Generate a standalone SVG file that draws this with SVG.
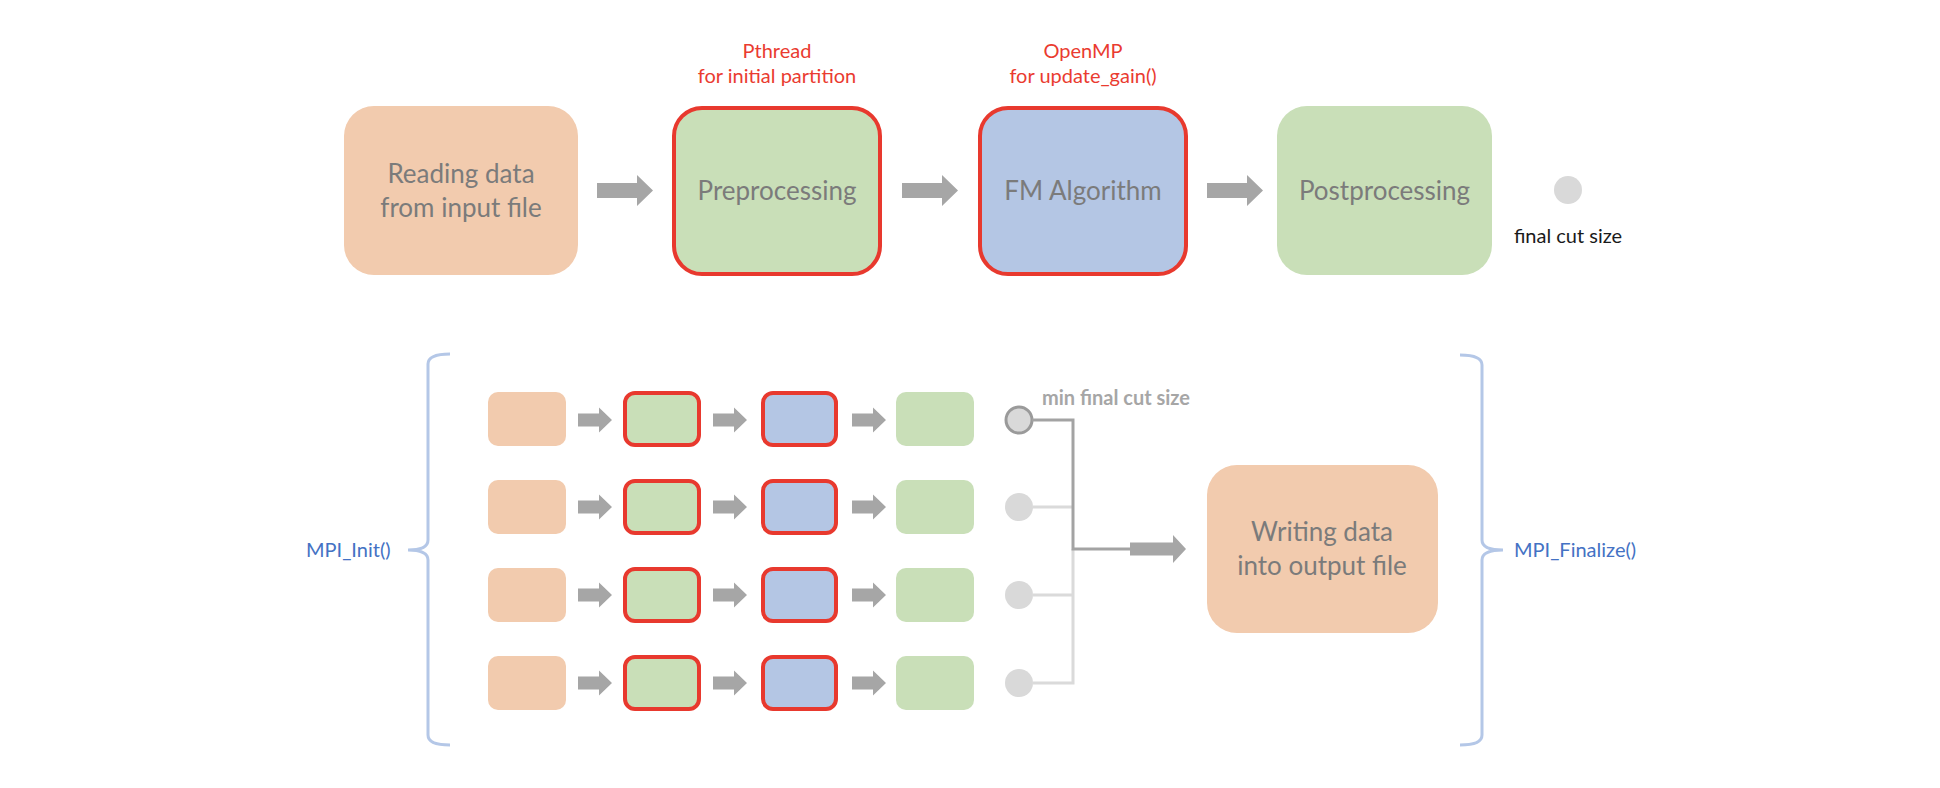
<svg xmlns="http://www.w3.org/2000/svg" xmlns:xlink="http://www.w3.org/1999/xlink" width="1940" height="788" viewBox="0 0 1940 788">
<style>
.orange{fill:#f2cbae}
.green{fill:#c9dfb8}
.blue{fill:#b4c6e4}
.red{stroke:#e8392e;stroke-width:4}
.main{font-family:Lato,"Liberation Sans",sans-serif;font-size:26px;fill:#7b7b7b;text-anchor:middle}
.lbl{font-family:Lato,"Liberation Sans",sans-serif;font-size:20px;fill:#ea3b30;text-anchor:middle}
.mpi{font-family:Lato,"Liberation Sans",sans-serif;font-size:20px;fill:#4472c4}
.arrow{fill:#a6a6a6}
.brace{fill:none;stroke:#b4c7e7;stroke-width:3}
.dark{stroke:#a3a3a3;stroke-width:3;fill:none}
.light{stroke:#dadada;stroke-width:3;fill:none}
</style>
<defs>
<path id="bigArrow" d="M0,-7.5 H40 V-15.5 L56,0 L40,15.5 V7.5 H0 Z"/>
<path id="smallArrow" d="M0,-6.5 H21 V-12.5 L34,0 L21,12.5 V6.5 H0 Z"/>
<path id="mergeArrow" d="M0,-6.5 H43 V-14 L56,0 L43,14 V6.5 H0 Z"/>
</defs>
<rect width="1940" height="788" fill="#ffffff"/>

<!-- top row -->
<g id="read">
<rect class="orange" x="344" y="106" width="234" height="169" rx="30"/>
<text class="main" x="461" y="183">Reading data</text>
<text class="main" x="461" y="217">from input file</text>
</g>
<g id="pre">
<rect class="green red" x="674" y="108" width="206" height="166" rx="28"/>
<text class="main" x="777" y="200">Preprocessing</text>
</g>
<g id="pre-label">
<text class="lbl" x="777" y="58">Pthread</text>
<text class="lbl" x="777" y="83">for initial partition</text>
</g>
<g id="fm">
<rect class="blue red" x="980" y="108" width="206" height="166" rx="28"/>
<text class="main" x="1083" y="200">FM Algorithm</text>
</g>
<g id="fm-label">
<text class="lbl" x="1083" y="58">OpenMP</text>
<text class="lbl" x="1083" y="83">for update_gain()</text>
</g>
<g id="post">
<rect class="green" x="1277" y="106" width="215" height="169" rx="30"/>
<text class="main" x="1384.5" y="200">Postprocessing</text>
</g>
<g id="final">
<circle cx="1568" cy="190" r="14" fill="#d9d9d9"/>
<text x="1568" y="243" font-family="Lato,'Liberation Sans',sans-serif" font-size="20" fill="#1a1a1a" text-anchor="middle">final cut size</text>
</g>

<!-- bottom rows -->
<g id="row1">
<rect class="orange" x="488" y="392" width="78" height="54" rx="10"/>
<rect class="green red" x="625" y="393" width="74" height="52" rx="10"/>
<rect class="blue red" x="763" y="393" width="73" height="52" rx="10"/>
<rect class="green" x="896" y="392" width="78" height="54" rx="10"/>
<circle cx="1019" cy="420" r="13" fill="#d9d9d9" stroke="#9a9a9a" stroke-width="3"/>
</g>
<g id="row2">
<rect class="orange" x="488" y="480" width="78" height="54" rx="10"/>
<rect class="green red" x="625" y="481" width="74" height="52" rx="10"/>
<rect class="blue red" x="763" y="481" width="73" height="52" rx="10"/>
<rect class="green" x="896" y="480" width="78" height="54" rx="10"/>
<circle cx="1019" cy="507" r="14" fill="#d9d9d9"/>
</g>
<g id="row3">
<rect class="orange" x="488" y="568" width="78" height="54" rx="10"/>
<rect class="green red" x="625" y="569" width="74" height="52" rx="10"/>
<rect class="blue red" x="763" y="569" width="73" height="52" rx="10"/>
<rect class="green" x="896" y="568" width="78" height="54" rx="10"/>
<circle cx="1019" cy="595" r="14" fill="#d9d9d9"/>
</g>
<g id="row4">
<rect class="orange" x="488" y="656" width="78" height="54" rx="10"/>
<rect class="green red" x="625" y="657" width="74" height="52" rx="10"/>
<rect class="blue red" x="763" y="657" width="73" height="52" rx="10"/>
<rect class="green" x="896" y="656" width="78" height="54" rx="10"/>
<circle cx="1019" cy="683" r="14" fill="#d9d9d9"/>
</g>
<g id="min-label">
<text x="1042" y="405" font-family="Lato,'Liberation Sans',sans-serif" font-size="20" font-weight="bold" fill="#a6a6a6">min final cut size</text>
</g>
<g id="write">
<rect class="orange" x="1207" y="465" width="231" height="168" rx="30"/>
<text class="main" x="1322" y="541">Writing data</text>
<text class="main" x="1322" y="575">into output file</text>
</g>

<!-- MPI braces -->
<g id="mpi-init">
<path class="brace" d="M450,354 Q428,354 428,364 L428,540 Q428,550 408,550 Q428,550 428,560 L428,735 Q428,745 450,745"/>
<text class="mpi" x="306" y="557">MPI_Init()</text>
</g>
<g id="mpi-finalize">
<path class="brace" d="M1460,355 Q1482,355 1482,365 L1482,540 Q1482,550 1503,550 Q1482,550 1482,560 L1482,735 Q1482,745 1460,745"/>
<text class="mpi" x="1514" y="557" font-size="20.5">MPI_Finalize()</text>
</g>

<!-- connectors -->
<g id="connectors">
<use xlink:href="#bigArrow" class="arrow" x="597" y="190.5"/>
<use xlink:href="#bigArrow" class="arrow" x="902" y="190.5"/>
<use xlink:href="#bigArrow" class="arrow" x="1207" y="190.5"/>

<use xlink:href="#smallArrow" class="arrow" x="578" y="420"/>
<use xlink:href="#smallArrow" class="arrow" x="713" y="420"/>
<use xlink:href="#smallArrow" class="arrow" x="852" y="420"/>
<use xlink:href="#smallArrow" class="arrow" x="578" y="507"/>
<use xlink:href="#smallArrow" class="arrow" x="713" y="507"/>
<use xlink:href="#smallArrow" class="arrow" x="852" y="507"/>
<use xlink:href="#smallArrow" class="arrow" x="578" y="595"/>
<use xlink:href="#smallArrow" class="arrow" x="713" y="595"/>
<use xlink:href="#smallArrow" class="arrow" x="852" y="595"/>
<use xlink:href="#smallArrow" class="arrow" x="578" y="683"/>
<use xlink:href="#smallArrow" class="arrow" x="713" y="683"/>
<use xlink:href="#smallArrow" class="arrow" x="852" y="683"/>

<path class="light" d="M1033,507 H1073 M1033,595 H1073 M1033,683 H1073 M1073,549 V684.5"/>
<path class="dark" d="M1032,420 H1073 V549 H1132"/>
<use xlink:href="#mergeArrow" class="arrow" x="1130" y="549"/>
</g>
</svg>
